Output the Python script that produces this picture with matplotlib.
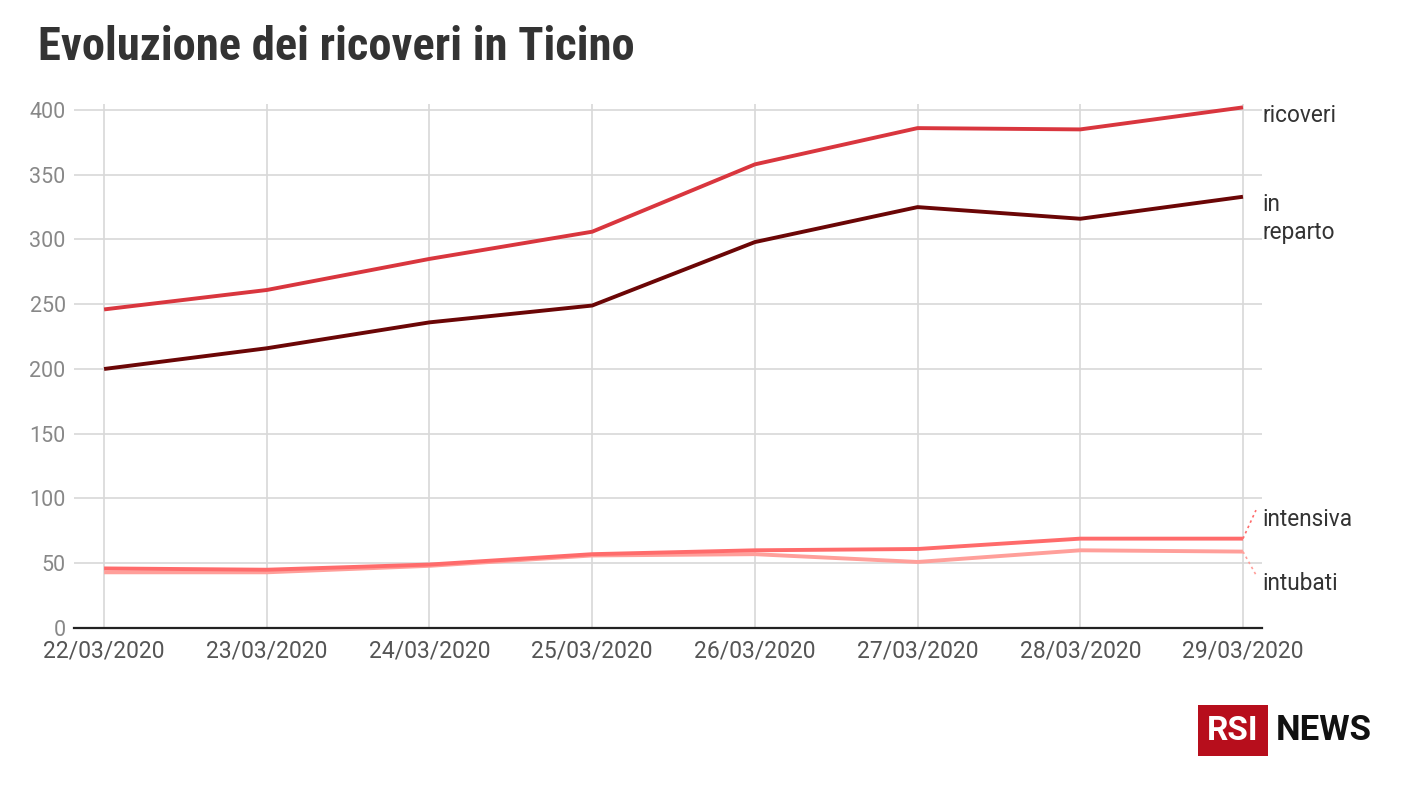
import matplotlib
matplotlib.use("Agg")
import matplotlib.pyplot as plt
from matplotlib import font_manager
import matplotlib.transforms as mtransforms
from matplotlib.patches import Rectangle

# ---- data ----
dates = ["22/03/2020", "23/03/2020", "24/03/2020", "25/03/2020",
         "26/03/2020", "27/03/2020", "28/03/2020", "29/03/2020"]
ricoveri = [246, 261, 285, 306, 358, 386, 385, 402]
in_reparto = [200, 216, 236, 249, 298, 325, 316, 333]
intensiva = [46, 45, 49, 57, 60, 61, 69, 69]
intubati = [43, 43, 48, 56, 57, 51, 60, 59]
y_ticks = [0, 50, 100, 150, 200, 250, 300, 350, 400]

title = "Evoluzione dei ricoveri in Ticino"

# ---- fonts ----
avail = {f.name for f in font_manager.fontManager.ttflist}
cond = None
for cand in ["Roboto Condensed", "Liberation Sans Narrow", "DejaVu Sans Condensed",
             "Open Sans Condensed", "Noto Sans Display"]:
    if cand in avail:
        cond = cand
        break
base_font = "Roboto" if "Roboto" in avail else "DejaVu Sans"
title_font = cond if cond else base_font
plt.rcParams["font.family"] = [base_font, "DejaVu Sans"]

W, H = 1408, 792
fig = plt.figure(figsize=(W / 100, H / 100), dpi=100)
fig.patch.set_facecolor("white")

left_px, right_px, bottom_px, top_px = 74, 1262, 628, 103.5
ax = fig.add_axes([left_px / W, (H - bottom_px) / H,
                   (right_px - left_px) / W, (bottom_px - top_px) / H])

x = list(range(len(dates)))
c_ric = "#d9363e"
c_rep = "#6b0606"
c_int = "#ff6b6b"
c_itb = "#ff9f9a"

lw = 2.8
ax.plot(x, intubati, color=c_itb, lw=lw, solid_capstyle="butt", zorder=3)
ax.plot(x, intensiva, color=c_int, lw=lw, solid_capstyle="butt", zorder=4)
ax.plot(x, in_reparto, color=c_rep, lw=lw, solid_capstyle="butt", zorder=4)
ax.plot(x, ricoveri, color=c_ric, lw=lw, solid_capstyle="butt", zorder=4)

ax.set_xlim(-0.185, 7.117)
ax.set_ylim(0, 405)
ax.set_yticks(y_ticks)
ax.set_xticks(x)
ax.set_xticklabels(dates)

for s in ["top", "right", "left"]:
    ax.spines[s].set_visible(False)
ax.spines["bottom"].set_color("#222222")
ax.spines["bottom"].set_linewidth(1.6)
ax.spines["bottom"].set_zorder(5)

ax.grid(True, color="#d8d8d8", lw=1.2, zorder=0)
ax.set_axisbelow(True)
ax.tick_params(axis="y", length=0, pad=6, labelsize=15.5, labelcolor="#888888")
ax.tick_params(axis="x", length=0, pad=8, labelsize=16.5, labelcolor="#555555")

# series labels at right
trans = mtransforms.blended_transform_factory(ax.transAxes, ax.transData)
lab_kw = dict(transform=trans, ha="left", va="center", fontsize=16.3,
              color="#333333", clip_on=False)
ax.text(1.0, ricoveri[-1] - 6, "ricoveri", **lab_kw)
ax.text(1.0, in_reparto[-1] - 17, "in\nreparto", linespacing=1.3, **lab_kw)
ax.text(1.0, 84, "intensiva", **lab_kw)
ax.text(1.0, 34, "intubati", **lab_kw)

# dotted connectors
ax.plot([7, 7.08], [intensiva[-1], 91], color=c_int, lw=1.2, ls=(0, (1.5, 2)),
        clip_on=False, zorder=4)
ax.plot([7, 7.08], [intubati[-1], 41], color=c_itb, lw=1.2, ls=(0, (1.5, 2)),
        clip_on=False, zorder=4)

# title
fig.text(38 / W, 1 - 47 / H, title, fontsize=33.6, fontweight="bold",
         color="#333333", family=[title_font, "DejaVu Sans"],
         ha="left", va="center")

# logo
fig.patches.append(Rectangle((1198 / W, 1 - 756 / H), 70 / W, 51 / H,
                             transform=fig.transFigure, facecolor="#b70e1c",
                             edgecolor="none"))
fig.text(1233 / W, 1 - 731 / H, "RSI", fontsize=24, fontweight="bold",
         color="white", ha="center", va="center")
fig.text(1276 / W, 1 - 731 / H, "NEWS", fontsize=25, fontweight="bold",
         color="#111111", ha="left", va="center")

fig.savefig("out.png", dpi=100, facecolor="white")
